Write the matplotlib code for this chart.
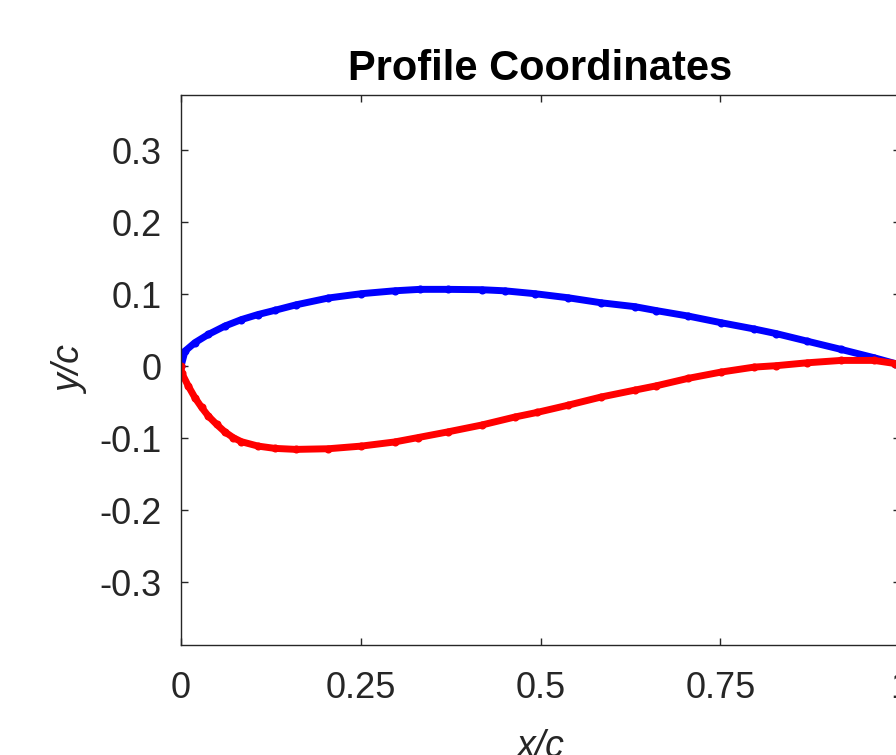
"""Airfoil profile coordinates, upper and lower surface."""

import matplotlib

matplotlib.use("Agg")

import matplotlib.pyplot as plt

# upper surface (x/c, y/c)
upper_x = [0.0, 0.0056, 0.0194, 0.038, 0.061, 0.084, 0.107, 0.131, 0.160, 0.205,
           0.251, 0.297, 0.332, 0.371, 0.418, 0.450, 0.492, 0.538, 0.584, 0.631,
           0.661, 0.705, 0.751, 0.797, 0.828, 0.871, 0.918, 0.964, 0.993, 1.0]
upper_y = [0.0, 0.0213, 0.033, 0.0444, 0.056, 0.065, 0.072, 0.078, 0.0855, 0.095,
           0.101, 0.105, 0.107, 0.107, 0.1065, 0.105, 0.101, 0.0954, 0.0884, 0.083,
           0.0775, 0.070, 0.0607, 0.052, 0.0455, 0.035, 0.0236, 0.012, 0.004, 0.002]

# lower surface
lower_x = [0.0, 0.001, 0.010, 0.0194, 0.0287, 0.038, 0.0496, 0.061, 0.0727, 0.084,
           0.107, 0.1306, 0.160, 0.205, 0.251, 0.297, 0.329, 0.371, 0.418, 0.464,
           0.495, 0.538, 0.584, 0.631, 0.661, 0.705, 0.751, 0.797, 0.828, 0.871,
           0.918, 0.964, 0.993, 1.0]
lower_y = [0.0, -0.009, -0.027, -0.0435, -0.057, -0.069, -0.0806, -0.091, -0.099, -0.1046,
           -0.1107, -0.1139, -0.1153, -0.1144, -0.1107, -0.105, -0.099, -0.091, -0.0815, -0.0704,
           -0.064, -0.054, -0.0426, -0.033, -0.027, -0.0167, -0.0079, -0.001, 0.001, 0.005,
           0.0083, 0.0083, 0.004, 0.002]

x_ticks = [0, 0.25, 0.5, 0.75, 1]
x_tick_labels = ["0", "0.25", "0.5", "0.75", "1"]
y_ticks = [-0.3, -0.2, -0.1, 0, 0.1, 0.2, 0.3]
y_tick_labels = ["-0.3", "-0.2", "-0.1", "0", "0.1", "0.2", "0.3"]

plt.rcParams["font.family"] = ["Liberation Sans", "DejaVu Sans"]
plt.rcParams["axes.unicode_minus"] = False

fig = plt.figure(figsize=(8.96, 7.55), dpi=100)
ax = fig.add_axes([0.2020, 0.1457, 0.8025, 0.7285])

for xs, ys, color in ((upper_x, upper_y, "#0000ff"), (lower_x, lower_y, "#ff0000")):
    ax.plot(xs, ys, color=color, linewidth=5.0, solid_capstyle="round")
    ax.plot(xs, ys, linestyle="none", marker="o", markersize=5.8,
            markerfacecolor=color, markeredgewidth=0)

ax.set_xlim(0, 1)
ax.set_ylim(-0.387, 0.377)
ax.set_xticks(x_ticks, x_tick_labels)
ax.set_yticks(y_ticks, y_tick_labels)

edge = "#262626"
for spine in ax.spines.values():
    spine.set_color(edge)
    spine.set_linewidth(1.0)
ax.tick_params(axis="both", direction="in", length=5, width=1.0, color=edge,
               labelcolor=edge, labelsize=26, top=True, right=True)
ax.tick_params(axis="x", pad=19)
ax.tick_params(axis="y", pad=14)

ax.set_title("Profile Coordinates", fontsize=30, fontweight="bold", pad=11)
ax.set_xlabel("x/c", fontsize=27, fontstyle="italic", color=edge, labelpad=16)
ax.set_ylabel("y/c", fontsize=27, fontstyle="italic", color=edge, labelpad=7)

fig.savefig("out.png", dpi=100)
